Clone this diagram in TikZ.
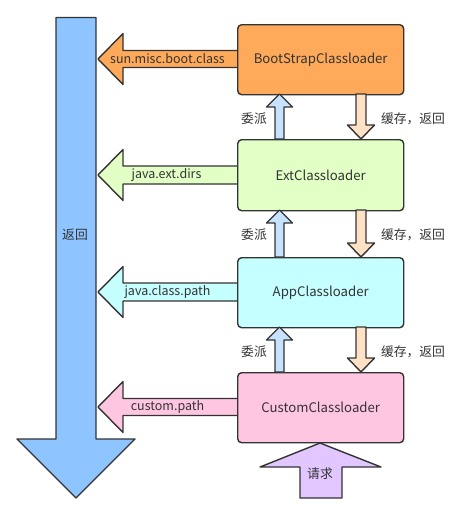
\documentclass[tikz,border=0pt]{standalone}
\usepackage{fontspec}
\setmainfont{Noto Sans CJK SC}
\begin{document}
\begin{tikzpicture}[x=1pt,y=-1pt,
  outl/.style={draw=lineC, line width=1.4pt, line join=round},
  box/.style={outl, rounded corners=4pt, minimum width=166pt, minimum height=70pt, anchor=north west, font=\fontsize{13.2}{15}\selectfont, text=textC},
  lbl/.style={font=\fontsize{12.5}{14}\selectfont, text=textC},
  zh/.style={font=\fontsize{12.8}{14}\selectfont, text=textC},
  ]
\definecolor{lineC}{HTML}{333333}
\definecolor{textC}{HTML}{333333}
\definecolor{bootC}{HTML}{FFAA5A}
\definecolor{extC}{HTML}{E2FFC6}
\definecolor{appC}{HTML}{C6FFFF}
\definecolor{custC}{HTML}{FFC6E2}
\definecolor{bigC}{HTML}{8EC4FF}
\definecolor{upC}{HTML}{C6E2FF}
\definecolor{downC}{HTML}{FFE2C6}
\definecolor{reqC}{HTML}{E2C6FF}
\useasboundingbox (0,0) rectangle (452,514);
% big return arrow
\draw[outl, fill=bigC] (56,17.5) -- (96,17.5) -- (96,439) -- (135,439) -- (76,498) -- (17,439) -- (56,439) -- cycle;
\node[zh] (ret) at (75,235) {返回};
% left arrows
\foreach \cy/\hw/\col in {59/8.5/bootC, 175/9/extC, 292/9/appC, 407/8.5/custC}{
  \draw[outl, fill=\col] (238,\cy-\hw) -- (123,\cy-\hw) -- (123,\cy-25.5) -- (98,\cy) -- (123,\cy+25.5) -- (123,\cy+\hw) -- (238,\cy+\hw) -- cycle;
}
\node[lbl] (p1) at (167.5,59) {sun.misc.boot.class};
\node[lbl] (p2) at (166.5,175) {java.ext.dirs};
\node[lbl] (p3) at (167.5,292) {java.class.path};
\node[lbl] (p4) at (167.5,407) {custom.path};
% boxes
\node[box, fill=bootC] (boot) at (237,24) {BootStrapClassloader};
\node[box, fill=extC, minimum height=71pt] (ext) at (237,139) {ExtClassloader};
\node[box, fill=appC] (app) at (237,257) {AppClassloader};
\node[box, fill=custC] (cust) at (237,372) {CustomClassloader};
% delegate (up) and return (down) arrows
\foreach \lo/\hi/\ym in {139/94/119, 257/210/235, 372/327/352}{
  \draw[outl, fill=upC] (275,\lo) -- (275,\hi+13) -- (266.5,\hi+13) -- (279.5,\hi) -- (292.5,\hi+13) -- (284,\hi+13) -- (284,\lo) -- cycle;
  \draw[outl, fill=downC] (356,\hi) -- (356,\lo-14) -- (347.5,\lo-14) -- (361,\lo) -- (374.5,\lo-14) -- (366,\lo-14) -- (366,\hi) -- cycle;
  \node[zh] at (254,\ym) {委派};
  \node[zh] at (413,\ym) {缓存，返回};
}
% request arrow
\draw[outl, fill=reqC] (300,498) -- (300,467) -- (260,467) -- (320,443) -- (381,467) -- (342,467) -- (342,498) -- cycle;
\node[zh] (req) at (320,474) {请求};
\end{tikzpicture}
\end{document}
